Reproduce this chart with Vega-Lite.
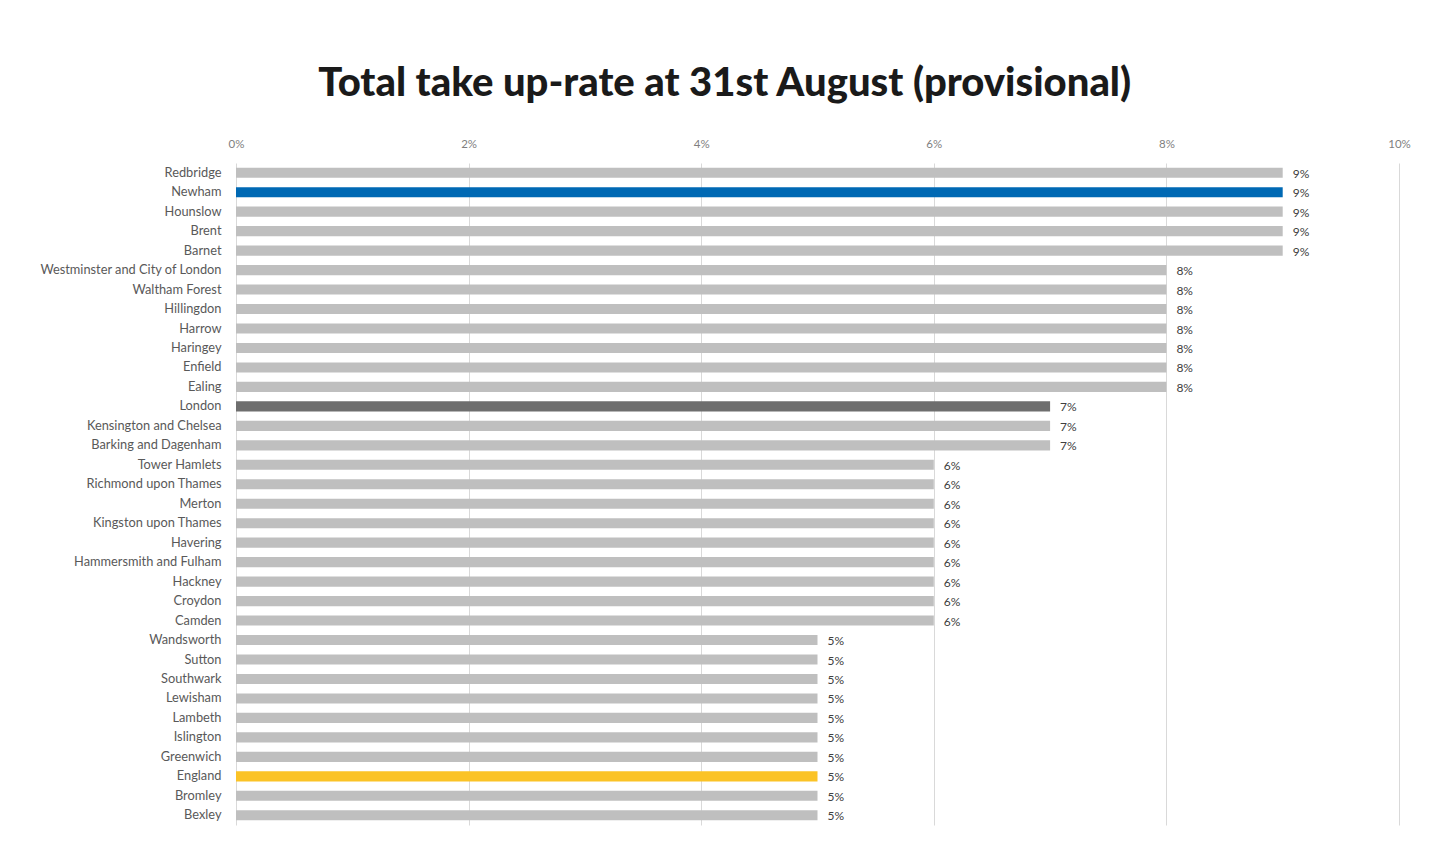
{
  "$schema": "https://vega.github.io/schema/vega-lite/v6.json",
  "width": 1163,
  "height": 662,
  "autosize": {"type": "none"},
  "padding": {"left": 236, "top": 163, "right": 50, "bottom": 42},
  "background": "white",
  "title": {
    "text": "Total take up-rate at 31st August (provisional)",
    "font": "Lato",
    "fontSize": 40,
    "fontWeight": 900,
    "color": "#1a1a1a",
    "anchor": "middle",
    "frame": "bounds",
    "offset": 34
  },
  "data": {
    "values": [
      {"area": "Redbridge", "rate": 0.09, "kind": "Borough"},
      {"area": "Newham", "rate": 0.09, "kind": "Newham"},
      {"area": "Hounslow", "rate": 0.09, "kind": "Borough"},
      {"area": "Brent", "rate": 0.09, "kind": "Borough"},
      {"area": "Barnet", "rate": 0.09, "kind": "Borough"},
      {"area": "Westminster and City of London", "rate": 0.08, "kind": "Borough"},
      {"area": "Waltham Forest", "rate": 0.08, "kind": "Borough"},
      {"area": "Hillingdon", "rate": 0.08, "kind": "Borough"},
      {"area": "Harrow", "rate": 0.08, "kind": "Borough"},
      {"area": "Haringey", "rate": 0.08, "kind": "Borough"},
      {"area": "Enfield", "rate": 0.08, "kind": "Borough"},
      {"area": "Ealing", "rate": 0.08, "kind": "Borough"},
      {"area": "London", "rate": 0.07, "kind": "London"},
      {"area": "Kensington and Chelsea", "rate": 0.07, "kind": "Borough"},
      {"area": "Barking and Dagenham", "rate": 0.07, "kind": "Borough"},
      {"area": "Tower Hamlets", "rate": 0.06, "kind": "Borough"},
      {"area": "Richmond upon Thames", "rate": 0.06, "kind": "Borough"},
      {"area": "Merton", "rate": 0.06, "kind": "Borough"},
      {"area": "Kingston upon Thames", "rate": 0.06, "kind": "Borough"},
      {"area": "Havering", "rate": 0.06, "kind": "Borough"},
      {"area": "Hammersmith and Fulham", "rate": 0.06, "kind": "Borough"},
      {"area": "Hackney", "rate": 0.06, "kind": "Borough"},
      {"area": "Croydon", "rate": 0.06, "kind": "Borough"},
      {"area": "Camden", "rate": 0.06, "kind": "Borough"},
      {"area": "Wandsworth", "rate": 0.05, "kind": "Borough"},
      {"area": "Sutton", "rate": 0.05, "kind": "Borough"},
      {"area": "Southwark", "rate": 0.05, "kind": "Borough"},
      {"area": "Lewisham", "rate": 0.05, "kind": "Borough"},
      {"area": "Lambeth", "rate": 0.05, "kind": "Borough"},
      {"area": "Islington", "rate": 0.05, "kind": "Borough"},
      {"area": "Greenwich", "rate": 0.05, "kind": "Borough"},
      {"area": "England", "rate": 0.05, "kind": "England"},
      {"area": "Bromley", "rate": 0.05, "kind": "Borough"},
      {"area": "Bexley", "rate": 0.05, "kind": "Borough"}
    ]
  },
  "encoding": {
    "y": {
      "field": "area",
      "type": "nominal",
      "sort": null,
      "scale": {"paddingInner": 0.48, "paddingOuter": 0.24},
      "axis": {
        "title": null,
        "ticks": false,
        "domain": false,
        "labelPadding": 15,
        "labelLimit": 400,
        "labelFont": "Lato",
        "labelFontSize": 12.8,
        "labelColor": "#595959"
      }
    },
    "x": {
      "field": "rate",
      "type": "quantitative",
      "scale": {"domain": [0, 0.1]},
      "axis": {
        "orient": "top",
        "title": null,
        "format": ".0%",
        "values": [0, 0.02, 0.04, 0.06, 0.08, 0.1],
        "ticks": false,
        "domain": false,
        "labelFlush": false,
        "labelPadding": 14,
        "labelFont": "Lato",
        "labelFontSize": 11.5,
        "labelColor": "#7f7f7f",
        "gridColor": "#d9d9d9",
        "gridWidth": 1
      }
    }
  },
  "layer": [
    {
      "mark": {"type": "bar"},
      "encoding": {
        "color": {
          "field": "kind",
          "type": "nominal",
          "scale": {
            "domain": ["Borough", "Newham", "London", "England"],
            "range": ["#bfbfbf", "#0069b4", "#6e6e6e", "#fbc326"]
          },
          "legend": null
        }
      }
    },
    {
      "mark": {"type": "text", "align": "left", "dx": 10, "dy": 1, "font": "Lato", "fontSize": 12, "color": "#404040"},
      "encoding": {
        "text": {"field": "rate", "type": "quantitative", "format": ".0%"}
      }
    }
  ],
  "config": {"view": {"stroke": null}}
}
